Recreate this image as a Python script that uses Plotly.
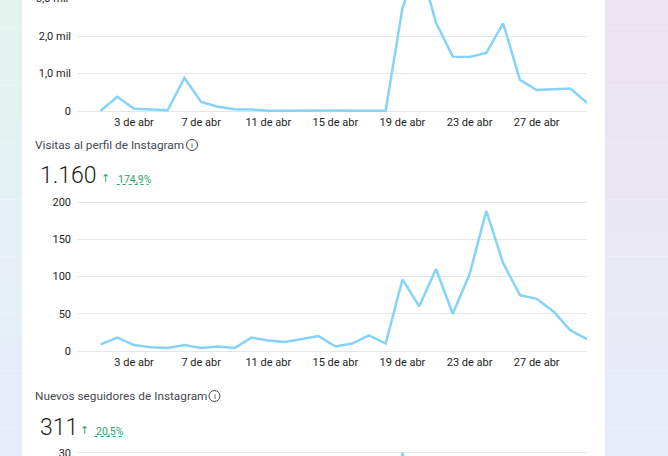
import plotly.graph_objects as go

W, H = 668, 456

# ---------------- data ----------------
days = list(range(1, 31))  # 1..30 de abril
tick_days = [3, 7, 11, 15, 19, 23, 27]
tick_labels = ["3 de abr", "7 de abr", "11 de abr", "15 de abr", "19 de abr", "23 de abr", "27 de abr"]

# top chart (partially visible)
top_vals = [0, 380, 60, 35, 20, 880, 240, 115, 45, 40, 10, 10, 15, 20, 15,
            10, 15, 10, 2750, 3970, 2350, 1450, 1440, 1550, 2340, 830, 560, 590, 600, 220]
top_ticks = [0, 1000, 2000, 3000]
top_ticktext = ["0", "1,0 mil", "2,0 mil", "3,0 mil"]

# Visitas al perfil de Instagram
mid_vals = [9, 18, 8, 5, 4, 8, 4, 6, 4, 18, 14, 12, 16, 20, 6,
            10, 21, 10, 96, 60, 110, 50, 103, 188, 118, 75, 70, 53, 28, 16]
mid_ticks = [0, 50, 100, 150, 200]
mid_total = "1.160"
mid_change = "174,9%"

# Nuevos seguidores de Instagram (only the tip near day 19 is visible)
bot_vals = [None] * 17 + [8, 30, 14] + [None] * 10
bot_ticks = [30]
bot_total = "311"
bot_change = "20,5%"

# ---------------- style ----------------
LINE = "#86D3FA"
GRID = "#E6E6E6"
TXT = "#1C1E21"
TITLE = "#444950"
GREEN = "#2E9F6B"
FONT = "Roboto"


def px(x):
    return x / W


def py(y):
    return 1 - y / H


X0, X1 = 77, 587
ppd = (587 - 100.5) / 29.0
xrange = [1 - (100.5 - X0) / ppd, 30 + (X1 - 587) / ppd]

fig = go.Figure()

t_top, t_bot = 0, 114
top_range = [(111 - t_bot) / 37.5 * 1000, (111 - t_top) / 37.5 * 1000]
m_ppu = (351 - 202) / 200
m_top, m_bot = 190, 354
mid_range = [(351 - m_bot) / m_ppu, (351 - m_top) / m_ppu]
b_ppu = m_ppu * 200 / 30
b_top, b_bot = 440, 456
bot_range = [30 - (b_bot - 452.7) / b_ppu, 30 + (452.7 - b_top) / b_ppu]

charts = [
    ("", top_vals, top_range, t_top, t_bot, top_ticks, top_ticktext, True),
    ("2", mid_vals, mid_range, m_top, m_bot, mid_ticks, [str(v) for v in mid_ticks], True),
    ("3", bot_vals, bot_range, b_top, b_bot, bot_ticks, [str(v) for v in bot_ticks], False),
]

for suf, vals, yr, ytop, ybot, yt, ytt, showx in charts:
    fig.add_trace(go.Scatter(
        x=days, y=vals, mode="lines", xaxis="x" + suf, yaxis="y" + suf,
        line=dict(color=LINE, width=2.5), hoverinfo="skip", showlegend=False,
        connectgaps=False,
    ))
    fig.layout["xaxis" + suf] = dict(
        domain=[px(X0), px(X1)], range=xrange, anchor="y" + suf, automargin=False,
        showgrid=False, zeroline=False, showline=False, ticks="",
        tickvals=tick_days if showx else [], ticktext=tick_labels if showx else [],
        tickfont=dict(family=FONT, size=11, color=TXT), fixedrange=True,
        ticklabeloverflow="allow",
    )
    fig.layout["yaxis" + suf] = dict(
        domain=[py(ybot), py(ytop)], range=yr, anchor="x" + suf, automargin=False,
        showgrid=True, gridcolor=GRID, gridwidth=1, zeroline=False, showline=False,
        ticks="", tickvals=yt, ticktext=ytt, ticklabelstandoff=5,
        tickfont=dict(family=FONT, size=11, color=TXT), fixedrange=True,
        ticklabeloverflow="allow",
    )

# ---------------- background ----------------
shapes = []


def lerp(c1, c2, t):
    return "rgb(%d,%d,%d)" % tuple(round(a + (b - a) * t) for a, b in zip(c1, c2))


n = 16
for i in range(n):
    t = i / (n - 1)
    y0, y1 = i / n, (i + 1) / n
    shapes.append(dict(type="rect", xref="paper", yref="paper", x0=0, x1=px(22),
                       y0=1 - y1, y1=1 - y0, line=dict(width=0), layer="below",
                       fillcolor=lerp((228, 243, 238), (229, 237, 250), t)))
    shapes.append(dict(type="rect", xref="paper", yref="paper", x0=px(605), x1=1,
                       y0=1 - y1, y1=1 - y0, line=dict(width=0), layer="below",
                       fillcolor=lerp((235, 227, 239), (232, 236, 249), t)))
shapes.append(dict(type="rect", xref="paper", yref="paper", x0=px(22), x1=px(605),
                   y0=0, y1=1, line=dict(width=0), fillcolor="white", layer="below"))

annotations = [
    dict(x=px(70), y=py(-1.5), xref="paper", yref="paper", text="3,0 mil",
         showarrow=False, xanchor="right", yanchor="middle",
         font=dict(family=FONT, size=11, color=TXT)),
]


def header(title, y_title, icon_x, total, y_total, arrow_x, chg, chg_x0, chg_x1, y_chg):
    annotations.append(dict(x=px(33), y=py(y_title), xref="paper", yref="paper", text=title,
                            showarrow=False, xanchor="left", yanchor="middle",
                            font=dict(family=FONT, size=11.8, color=TITLE)))
    shapes.append(dict(type="circle", xref="paper", yref="paper",
                       x0=px(icon_x - 5.5), x1=px(icon_x + 5.5),
                       y0=py(y_title + 5.5), y1=py(y_title - 5.5),
                       line=dict(color=TITLE, width=1)))
    annotations.append(dict(x=px(icon_x), y=py(y_title + 0.3), xref="paper", yref="paper", text="i",
                            showarrow=False, xanchor="center", yanchor="middle",
                            font=dict(family=FONT, size=8, color=TITLE)))
    annotations.append(dict(x=px(38), y=py(y_total), xref="paper", yref="paper", text=total,
                            showarrow=False, xanchor="left", yanchor="middle",
                            font=dict(family=FONT, size=23, color=TXT, weight=300)))
    annotations.append(dict(x=px(arrow_x), y=py(y_chg - 0.5), xref="paper", yref="paper", text="↑",
                            showarrow=False, xanchor="center", yanchor="middle",
                            font=dict(family="DejaVu Sans", size=11, color=GREEN)))
    annotations.append(dict(x=px(chg_x0 - 1), y=py(y_chg), xref="paper", yref="paper", text=chg,
                            showarrow=False, xanchor="left", yanchor="middle",
                            font=dict(family=FONT, size=10.5, color=GREEN)))
    shapes.append(dict(type="line", xref="paper", yref="paper", x0=px(chg_x0), x1=px(chg_x1),
                       y0=py(y_chg + 5.5), y1=py(y_chg + 5.5),
                       line=dict(color=GREEN, width=1, dash="dot")))


header("Visitas al perfil de Instagram", 145, 192, mid_total, 175, 105, mid_change, 116.7, 148.7, 179)
header("Nuevos seguidores de Instagram", 396, 214.5, bot_total, 427, 84.3, bot_change, 94.7, 121.7, 431)

fig.update_layout(
    width=W, height=H, margin=dict(l=0, r=0, t=0, b=0, autoexpand=False),
    paper_bgcolor="white", plot_bgcolor="rgba(0,0,0,0)",
    shapes=shapes, annotations=annotations, showlegend=False,
    font=dict(family=FONT),
)

post = (
    "document.documentElement.style.margin='0';"
    "document.documentElement.style.overflow='hidden';"
    "document.body.style.margin='0';"
    "document.body.style.overflow='hidden';"
    "var gd=document.getElementById('{plot_id}');"
    "gd.style.overflow='hidden';"
)
fig.write_html("out.html", config={"displayModeBar": False}, post_script=post)
